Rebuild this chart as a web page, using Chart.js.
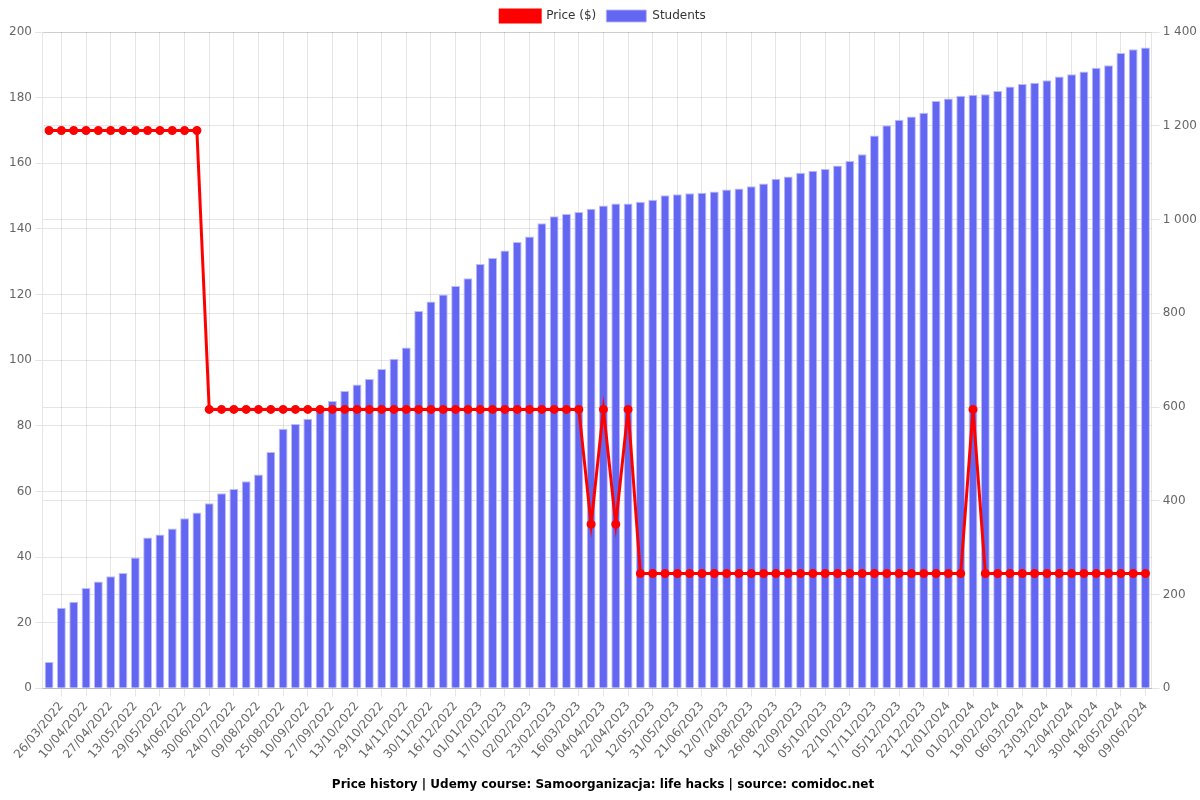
<!DOCTYPE html>
<html>
<head>
<meta charset="utf-8">
<script src="https://cdn.jsdelivr.net/npm/chart.js@4"></script>
<style>
html,body{margin:0;padding:0;background:#fff;}
#wrap{width:1200px;height:800px;position:relative;}
</style>
</head>
<body>
<div id="wrap"><canvas id="c"></canvas></div>
<script>
const dates = [
"18/03/2022","26/03/2022","02/04/2022","10/04/2022","18/04/2022","27/04/2022","05/05/2022","13/05/2022","21/05/2022","29/05/2022",
"06/06/2022","14/06/2022","22/06/2022","30/06/2022","12/07/2022","24/07/2022","01/08/2022","09/08/2022","17/08/2022","25/08/2022",
"02/09/2022","10/09/2022","19/09/2022","27/09/2022","05/10/2022","13/10/2022","21/10/2022","29/10/2022","06/11/2022","14/11/2022",
"22/11/2022","30/11/2022","08/12/2022","16/12/2022","24/12/2022","01/01/2023","09/01/2023","17/01/2023","25/01/2023","02/02/2023",
"12/02/2023","23/02/2023","06/03/2023","16/03/2023","26/03/2023","04/04/2023","13/04/2023","22/04/2023","02/05/2023","12/05/2023",
"21/05/2023","31/05/2023","10/06/2023","21/06/2023","01/07/2023","12/07/2023","24/07/2023","04/08/2023","15/08/2023","26/08/2023",
"04/09/2023","12/09/2023","23/09/2023","05/10/2023","14/10/2023","22/10/2023","30/10/2023","17/11/2023","26/11/2023","05/12/2023",
"13/12/2023","22/12/2023","02/01/2024","12/01/2024","22/01/2024","01/02/2024","10/02/2024","19/02/2024","27/02/2024","06/03/2024",
"14/03/2024","23/03/2024","02/04/2024","12/04/2024","21/04/2024","30/04/2024","09/05/2024","18/05/2024","29/05/2024","09/06/2024"
];
const price = [
170,170,170,170,170,170,170,170,170,170,170,170,170,
85,85,85,85,85,85,85,85,85,85,85,85,85,85,85,85,85,85,85,85,85,85,85,85,85,85,85,85,85,85,85,
50,85,50,85,
35,35,35,35,35,35,35,35,35,35,35,35,35,35,35,35,35,35,35,35,35,35,35,35,35,35,35,
85,
35,35,35,35,35,35,35,35,35,35,35,35,35,35
];
const students = [
56,172,185,214,228,239,246,279,322,328,
341,363,375,395,416,425,442,456,504,554,
564,575,597,613,634,648,660,681,703,727,
805,825,840,858,875,905,918,934,952,964,
992,1007,1012,1016,1023,1030,1034,1034,1038,1042,
1052,1054,1056,1057,1060,1064,1066,1071,1077,1087,
1092,1100,1104,1108,1115,1125,1139,1179,1201,1213,
1220,1228,1253,1258,1264,1266,1267,1274,1284,1289,
1292,1297,1305,1310,1316,1324,1329,1355,1363,1367
];
const priceTicks = {min:0, max:200, step:20};
const studentTicks = {min:0, max:1400, step:200};
const titleText = "Price history | Udemy course: Samoorganizacja: life hacks | source: comidoc.net";

function fmt(v){ return String(v).replace(/\B(?=(\d{3})+(?!\d))/g, ' '); }

Chart.defaults.font.family = "'DejaVu Sans', sans-serif";
Chart.defaults.font.size = 12;

new Chart(document.getElementById('c'), {
  type: 'bar',
  data: {
    labels: dates,
    datasets: [
      {
        type: 'line',
        label: 'Price ($)',
        data: price,
        yAxisID: 'y',
        borderColor: '#ff0000',
        backgroundColor: '#ff0000',
        borderWidth: 3,
        pointRadius: 3,
        pointBackgroundColor: '#ff0000',
        pointBorderColor: '#ff0000',
        tension: 0,
        order: 0
      },
      {
        type: 'bar',
        label: 'Students',
        data: students,
        yAxisID: 'y1',
        backgroundColor: '#6366f1',
        borderColor: 'rgba(180,182,250,0.9)',
        borderWidth: 1,
        order: 1
      }
    ]
  },
  options: {
    responsive: true,
    maintainAspectRatio: false,
    animation: false,
    layout: { padding: { left: 6 } },
    plugins: {
      legend: {
        position: 'top',
        labels: { color: '#333', font: { size: 12 } }
      },
      title: {
        display: true,
        position: 'bottom',
        text: titleText,
        color: '#000',
        font: { size: 12, weight: 'bold' },
        padding: { top: 13, bottom: 8 }
      },
      tooltip: { enabled: false }
    },
    scales: {
      x: {
        offset: true,
        grid: { offset: false },
        ticks: {
          autoSkip: false,
          minRotation: 50,
          maxRotation: 50,
          color: '#666',
          callback: function(v, i) { return (i % 2 === 1) ? this.getLabelForValue(v) : null; }
        }
      },
      y: {
        position: 'left',
        min: priceTicks.min, max: priceTicks.max,
        ticks: { stepSize: priceTicks.step, color: '#666' }
      },
      y1: {
        position: 'right',
        min: studentTicks.min, max: studentTicks.max,
        ticks: { stepSize: studentTicks.step, color: '#666', callback: v => fmt(v) }
      }
    }
  }
});
</script>
</body>
</html>
